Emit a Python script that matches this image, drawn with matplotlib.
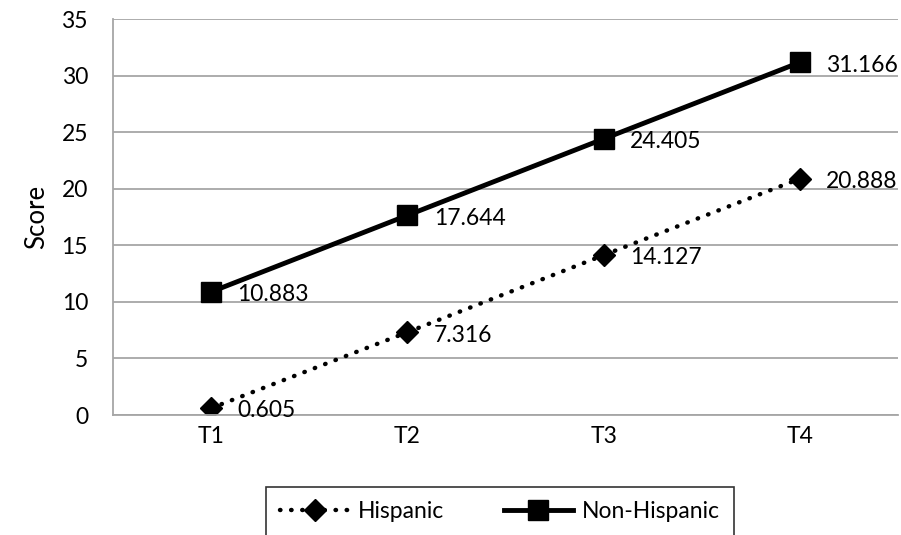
import numpy as np
import matplotlib.pyplot as plt

categories = ["T1", "T2", "T3", "T4"]
hispanic = [0.605, 7.316, 14.127, 20.888]
non_hispanic = [10.883, 17.644, 24.405, 31.166]

plt.rcParams["font.family"] = ["Lato", "DejaVu Sans"]

fig = plt.figure(figsize=(9.01, 5.35), dpi=100)
ax = fig.add_axes([113 / 901, 1 - 415 / 535, 785 / 901, 396 / 535])

x = np.arange(len(categories))
ax.plot(x, hispanic, color="black", linestyle=(0, (0.1, 2.4)), linewidth=3.2,
        dash_capstyle="round", marker="D", markersize=11, label="Hispanic")
ax.plot(x, non_hispanic, color="black", linestyle="-", linewidth=3.5,
        marker="s", markersize=14, label="Non-Hispanic")

for xi, v in zip(x, hispanic):
    ax.annotate(f"{v:.3f}", (xi, v), xytext=(19, -2), textcoords="offset points",
                ha="left", va="center", fontsize=16.5)
for xi, v in zip(x, non_hispanic):
    ax.annotate(f"{v:.3f}", (xi, v), xytext=(19, -2), textcoords="offset points",
                ha="left", va="center", fontsize=16.5)

ax.set_xlim(-0.5, 3.5)
ax.set_ylim(0, 35)
ax.set_yticks(range(0, 36, 5))
ax.set_xticks(x)
ax.set_xticklabels(categories)
ax.tick_params(axis="both", length=0, labelsize=16.5, pad=8)
ax.tick_params(axis="y", pad=18)
ax.grid(axis="y", color="#a6a6a6", linewidth=1.3)
ax.set_axisbelow(True)
for side in ["top", "right"]:
    ax.spines[side].set_visible(False)
for side in ["left", "bottom"]:
    ax.spines[side].set_color("#a6a6a6")
    ax.spines[side].set_linewidth(1.3)
ax.set_ylabel("Score", fontsize=18.5, labelpad=9)

leg = fig.legend(loc="upper center", bbox_to_anchor=(500 / 901, 1 - 487 / 535), ncol=2,
                 fontsize=16.5, frameon=True, fancybox=False, edgecolor="black",
                 handlelength=3.0, columnspacing=2.6, borderpad=0.6, handletextpad=0.4,
                 borderaxespad=0)
leg.get_frame().set_linewidth(1.2)

fig.savefig("out.png", dpi=100)
